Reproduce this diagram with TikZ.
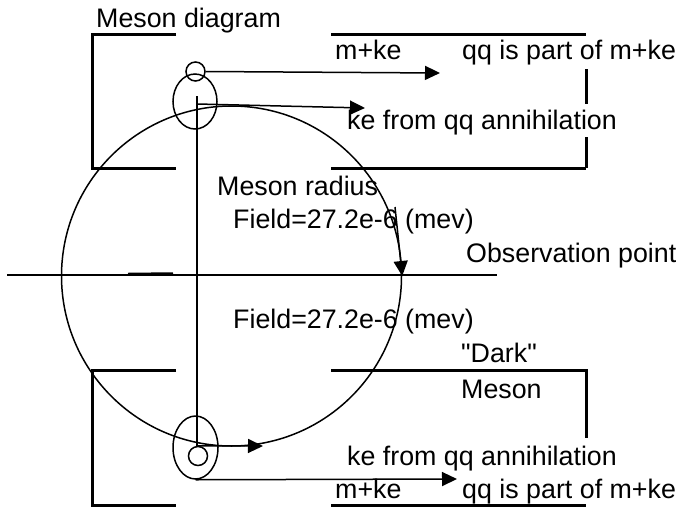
\documentclass[tikz,border=0pt]{standalone}
\usepackage{fontspec}
\newfontfamily\mesonfont{Liberation Sans}
\usetikzlibrary{arrows.meta,shapes.geometric}
\tikzset{
  mlab/.style={anchor=base west,inner sep=0pt,font=\mesonfont\fontsize{26.8}{30}\selectfont},
  mbrk/.style={line width=3pt},
  mline/.style={line width=1.5pt},
  mflow/.style={mline,-{Triangle[length=15pt,width=14pt]}},
  mquark/.style={draw,circle,mline,minimum size=19pt,inner sep=0pt},
  mcloud/.style={draw,ellipse,mline,inner sep=0pt},
}
\begin{document}
\begin{tikzpicture}[x=1pt,y=-1pt]
\useasboundingbox (0,0) rectangle (683,507);
% upper meson box
\draw[mbrk] (176,34) -- (92,34) -- (92,168) -- (176,168);
\draw[mbrk] (331,34) -- (586,34);
\draw[mbrk] (331,168) -- (586,168);
\draw[mbrk] (586,69) -- (586,104);
\draw[mbrk] (586,137) -- (586,168);
% lower meson box
\draw[mbrk] (176,370) -- (92,370) -- (92,505) -- (176,505);
\draw[mbrk] (331,505) -- (586,505);
\draw[mbrk] (331,370) -- (586,370) -- (586,438);
% meson and quarks
\node[draw,circle,mline,minimum size=340pt,inner sep=0pt] (meson) at (231.5,276) {};
\node[mquark] (qtop) at (195.5,71.5) {};
\node[mcloud,minimum width=44pt,minimum height=55pt] (ctop) at (195,101.5) {};
\node[mquark] (qbot) at (198,456) {};
\node[mcloud,minimum width=45pt,minimum height=63pt] (cbot) at (195.5,447.5) {};
\coordinate (axw) at (7,275);
\coordinate (axe) at (497,275);
\coordinate (vtop) at (197,96);
\coordinate (ketail) at (197,104);
\coordinate (kehead) at (365,108);
\coordinate (mkehead) at (440,73);
\coordinate (kebhead) at (263,446);
\coordinate (mkebhead) at (457,479);
\coordinate (radtail) at (395,207);
\draw[mline] (axw) -- (axe);
\draw[mline] (128,273.5) -- (173,273);
\draw[mline] (vtop) -- (vtop |- qbot.north);
% flows
\draw[mflow] (qtop.east) -- (mkehead);
\draw[mflow] (ketail) -- (kehead);
\draw[mflow] (qbot.north) -- (kebhead);
\draw[mflow] (cbot.south) -- (mkebhead);
\draw[mflow] (radtail) -- (meson.east);
% labels
\node[mlab] (title) at (96,27) {Meson diagram};
\node[mlab] (mketop) at (335,59) {m+ke};
\node[mlab] (parttop) at (462,59) {qq is part of m+ke};
\node[mlab] (ketop) at (347,129) {ke from qq annihilation};
\node[mlab] (radius) at (217,195) {Meson radius};
\node[mlab] (fieldtop) at (233,228) {Field=27.2e-6 (mev)};
\node[mlab] (obs) at (466,262) {Observation point};
\node[mlab] (fieldbot) at (233,328) {Field=27.2e-6 (mev)};
\node[mlab] (dark) at (461,362) {"Dark"};
\node[mlab] (darkm) at (461,398) {Meson};
\node[mlab] (kebot) at (347,465) {ke from qq annihilation};
\node[mlab] (mkebot) at (335,498) {m+ke};
\node[mlab] (partbot) at (462,498) {qq is part of m+ke};
\end{tikzpicture}
\end{document}
